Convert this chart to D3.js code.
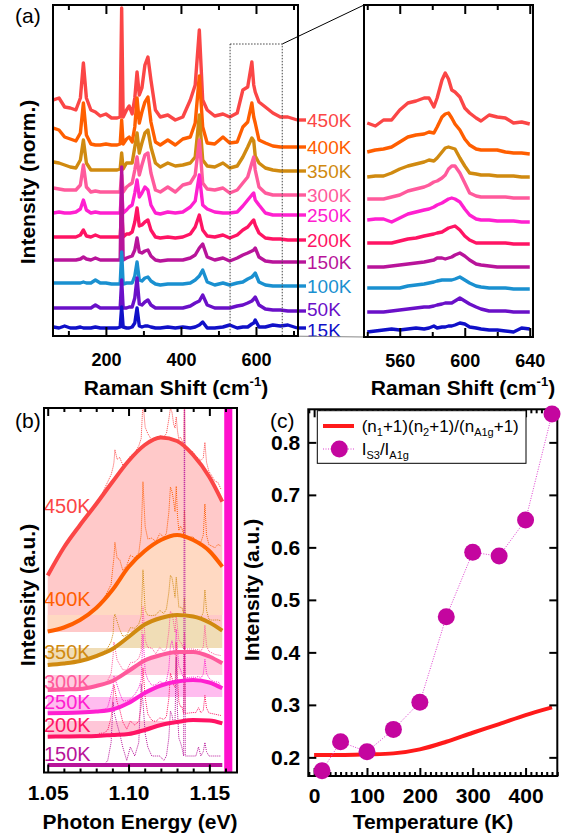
<!DOCTYPE html>
<html><head><meta charset="UTF-8"><title>Raman spectra vs temperature</title>
<script src="https://cdn.jsdelivr.net/npm/d3@7"></script>
<style>
body{margin:0;background:#fff}
svg{font-family:"Liberation Sans",Arial,sans-serif}
</style></head><body>
<svg id="fig" width="573" height="839"></svg>
<script>
// ---------- data: panel (a) ----------
var temps = ["450K","400K","350K","300K","250K","200K","150K","100K","50K","15K"];
var tempColors = ["#fb4646","#ff5e00","#d08a10","#ff5a9c","#ff20d0","#ff1464","#b8149a","#1a90d0","#6a10c8","#1010c8"];
var offsetsA = [216,189,165,141,121,96,74,50,26,7];   // stacking offset of each trace
var shiftA = [60,75,90,105,120,132,140,148,160,172,185,200,215,230,238,242,246,255,262,270,277,283,289,296,304,312,320,332,345,365,385,405,425,438,449,458,470,490,512,530,550,565,578,589,594,598,608,625,645,665,685,710];
var a450 = [20,22,13,12,10,22,57,22,10,8,4,6,2,2,3,112,3,10,14,6,22,48,25,32,55,63,40,10,3,5,0,3,20,35,90,20,10,4,6,3,7,30,33,58,35,28,18,13,7,3,3,0];
var a400 = [19,17,10,8,6,14,44,12,3,2,2,3,2,2,3,27,3,8,10,5,20,49,24,35,45,50,25,5,2,7,2,8,10,24,71,20,4,3,10,4,5,20,25,44,30,24,7,4,1,0,0,0];
var a350 = [9,8,6,4,3,11,31,8,1,1,1,1,1,1,2,18,2,8,8,8,24,38,18,28,38,41,24,8,4,8,5,6,8,14,56,11,5,4,8,3,5,14,24,33,30,15,8,3,1,0,0,0];
var a300 = [7,6,5,5,5,10,30,8,3,4,3,3,3,3,3,20,3,8,10,12,25,38,20,30,40,42,22,5,3,8,3,10,12,20,55,12,6,5,7,2,5,12,18,32,38,25,8,2,0,0,0,0];
var a250 = [2,3,2,2,3,6,15,5,2,3,2,2,2,2,2,25,2,5,8,10,22,35,18,22,28,25,10,2,1,3,2,3,8,14,40,10,6,3,2,2,3,9,15,20,22,15,10,2,0,0,0,0];
var a200 = [3,3,3,3,3,5,10,4,3,5,3,3,3,3,3,30,3,6,6,8,18,32,14,15,18,20,10,3,2,3,2,3,6,13,25,10,4,3,5,2,5,10,13,18,20,15,7,2,1,1,0,0];
var a150 = [2,2,2,2,2,3,5,3,2,4,2,2,2,2,2,95,2,4,5,6,12,24,10,9,11,12,6,2,1,2,2,2,4,7,14,18,5,2,4,1,4,7,9,11,12,14,5,1,0,0,0,0];
var a100 = [3,3,3,3,3,3,4,3,3,6,3,3,2,2,2,34,2,3,3,3,10,24,6,5,8,9,5,2,1,2,2,2,3,6,10,16,4,1,3,1,3,4,7,9,11,13,4,1,0,0,0,0];
var a50  = [2,2,2,2,2,2,2,2,2,5,2,2,2,2,2,30,2,2,3,3,12,32,6,5,8,10,5,2,2,2,2,2,4,7,9,15,5,2,2,2,4,5,7,9,11,13,5,1,0,0,-1,-1];
var a15  = [2,1,3,1,1,2,1,1,1,2,1,1,1,1,2,22,2,1,1,2,6,21,3,2,3,3,2,1,1,2,1,2,1,2,4,7,1,1,2,4,1,2,2,5,6,9,2,2,4,3,4,1];
var specsA = [a450,a400,a350,a300,a250,a200,a150,a100,a50,a15];

// zoomed window 538-642 cm-1
var shiftZ = [540,545,550,555,560,565,570,575,578,581,583,586,588,590,592,594,597,600,603,607,610,615,620,625,630,635,640];
var z450 = [-3,-6,0,0,10,17,19,22,22,13,22,40,47,41,30,28,23,12,7,2,-1,5,3,2,-3,-2,-4];
var z400 = [-5,-3,-2,0,5,10,12,13,15,14,20,30,33,34,29,23,17,8,2,-2,-3,-3,-3,-5,-6,-6,-7];
var z350 = [-6,-5,-5,-2,2,5,7,9,11,10,13,19,23,24,23,22,13,5,-2,-3,-4,-4,-5,-5,-5,-6,-6];
var z300 = [-4,-4,-4,-2,0,4,6,8,10,13,14,17,20,26,29,29,22,12,2,-1,-2,-2,-2,-2,-3,-3,-3];
var z250 = [-5,-4,-4,-7,-3,1,3,5,6,8,10,12,14,16,17,16,13,6,0,-4,-5,-5,-6,-6,-6,-7,-7];
var z200 = [-3,-3,-3,-3,-1,1,2,4,5,6,7,8,10,12,13,14,10,4,0,-3,-3,-3,-3,-3,-4,-4,-4];
var z150 = [-5,-5,-5,-4,-3,-2,-1,0,1,2,4,4,3,4,5,7,9,6,2,-2,-3,-4,-5,-5,-5,-5,-5];
var z100 = [-2,-2,-2,-2,-2,0,1,2,3,4,5,6,6,6,6,7,9,6,3,0,-1,-2,-2,-2,-3,-3,-3];
var z50  = [-2,-2,-2,-1,0,1,2,3,3,4,5,6,7,7,7,9,12,9,6,3,1,-1,-1,-1,-2,-2,-2];
var z15  = [-3,-2,-1,0,-1,0,1,0,1,3,1,2,2,3,3,4,6,5,2,1,0,-1,-1,-2,-3,1,0];
var specsZ = [z450,z400,z350,z300,z250,z200,z150,z100,z50,z15];

// ---------- data: panel (b) ----------
var laserE = 1.1646;            // eV
var fitE = [1.05,1.06,1.07,1.08,1.09,1.10,1.11,1.12,1.13,1.14,1.15,1.158];
var fit450 = [197,225,247.5,268.5,290.5,311.5,327.5,335,331.5,317.5,295.5,270.8];
var fit400 = [141,145,152.5,164.5,182.5,205.5,221.5,232.5,237.5,232.5,221.5,205.8];
var fit350 = [107.5,109,111.5,116.5,123.5,135.5,148,154.5,157.5,156,150,141.8];
var fit300 = [82.5,83,83.5,86.5,91.5,101.5,112,117.5,120.5,120.5,116,109.2];
var fit250 = [59.2,59.5,60,61,63,69.5,79.5,87,91,92.5,90,84.2];
var fit200 = [35.8,36,36.2,36.5,37.5,38.5,42.5,47.5,50.5,52.5,52,49.2];
var fit150 = [7.5,7.5,7.5,7.5,7.5,7.5,7.5,7.5,7.5,7.5,7.5,7.5];
var fitsB = [fit450,fit400,fit350,fit300,fit250,fit200,fit150];
var fillLevelB = [140.5,157.5,124.5,97.5,75.5,51.5];   // level each fit is shaded to
var fillColorsB = ["#ffc9c9","#ffd9c2","#f0ddb6","#ffcde0","#ffbcef","#ffc6d8"];
var gainB = [0.5,1.0,1.0,1.0,1.5,2.5,4.5];   // raw spectrum scale in (b)

// ---------- data: panel (c) ----------
var tempC = [15,50,100,150,200,250,300,350,400,450];
var ratioC = [0.1745,0.2297,0.2107,0.2533,0.3048,0.4678,0.5905,0.5834,0.652,0.854];
var boseT = [0,50,100,150,200,250,300,350,400,450];
var boseC = [0.2045,0.2045,0.2057,0.2076,0.2152,0.2297,0.2469,0.2634,0.2806,0.2952];

var svg = d3.select("#fig");

function styleAxis(g, size) {
  g.select(".domain").remove();
  g.selectAll("line").attr("stroke", "#000").attr("stroke-width", 2);
  g.selectAll("text").attr("fill", "#000").attr("font-size", size).attr("font-weight", "bold")
    .attr("font-family", '"Liberation Sans",Arial,sans-serif');
}
function addAxis(axis, tx, ty, size) {
  var g = svg.append("g").attr("transform", "translate(" + tx + "," + ty + ")").call(axis);
  styleAxis(g, size || 18);
  return g;
}
function frame(x0, y0, x1, y1) {
  svg.append("rect").attr("x", x0).attr("y", y0).attr("width", x1 - x0).attr("height", y1 - y0)
    .attr("fill", "none").attr("stroke", "#000").attr("stroke-width", 2);
}
function clip(id, x0, y0, x1, y1) {
  svg.append("clipPath").attr("id", id).append("rect")
    .attr("x", x0).attr("y", y0).attr("width", x1 - x0).attr("height", y1 - y0);
}

// ================= panel (a) =================
var xA = d3.scaleLinear().domain([59, 712]).range([53, 298]);
var yA = d3.scaleLinear().domain([0, 331]).range([336, 5]);
var xZ = d3.scaleLinear().domain([538, 642]).range([364, 533]);

clip("clipA", 53, 5, 298, 336);
clip("clipZ", 364, 5, 533, 337);

var gA = svg.append("g").attr("clip-path", "url(#clipA)");
var gZ = svg.append("g").attr("clip-path", "url(#clipZ)");
var lineA = d3.line().x(function (d) { return xA(d[0]); }).y(function (d) { return yA(d[1]); });
var lineZ = d3.line().x(function (d) { return xZ(d[0]); }).y(function (d) { return yA(d[1]); });

var labelYA = [120, 147, 171, 195, 215, 240, 262, 286, 309, 330];
specsA.forEach(function (s, i) {
  var pts = shiftA.map(function (x, j) { return [x, offsetsA[i] + s[j]]; });
  gA.append("path").attr("d", lineA(pts)).attr("fill", "none")
    .attr("stroke", tempColors[i]).attr("stroke-width", 3.4).attr("stroke-linejoin", "round");
  var pz = shiftZ.map(function (x, j) { return [x, offsetsA[i] + specsZ[i][j]]; });
  gZ.append("path").attr("d", lineZ(pz)).attr("fill", "none")
    .attr("stroke", tempColors[i]).attr("stroke-width", 3.4).attr("stroke-linejoin", "round");
  // little lead-out to the label
  var yl = yA(offsetsA[i] + s[s.length - 1]);
  svg.append("line").attr("x1", 297).attr("x2", 306).attr("y1", yl).attr("y2", yl)
    .attr("stroke", tempColors[i]).attr("stroke-width", 3.4);
  svg.append("text").attr("x", 307).attr("y", labelYA[i]).attr("dy", "0.36em")
    .attr("font-size", 19).attr("fill", tempColors[i]).text(temps[i]);
});

// zoom window marker
svg.append("rect").attr("x", xA(531)).attr("y", 44).attr("width", xA(670) - xA(531)).attr("height", 336 - 44)
  .attr("fill", "none").attr("stroke", "#444").attr("stroke-width", 1).attr("stroke-dasharray", "1.5,1.5");
svg.append("line").attr("x1", xA(670)).attr("y1", 44).attr("x2", 364).attr("y2", 5)
  .attr("stroke", "#000").attr("stroke-width", 1);
svg.append("line").attr("x1", xA(670)).attr("y1", 336).attr("x2", 364).attr("y2", 337)
  .attr("stroke", "#888").attr("stroke-width", 1);

frame(53, 5, 298, 336);
frame(364, 5, 533, 337);
addAxis(d3.axisBottom(xA).tickValues([200, 400, 600]).tickSize(-9).tickPadding(17).tickFormat(d3.format("d")), 0, 336);
addAxis(d3.axisBottom(xA).tickValues([100, 300, 500, 700]).tickSize(-5).tickFormat(""), 0, 336);
addAxis(d3.axisTop(xA).tickValues([200, 400, 600]).tickSize(-9).tickFormat(""), 0, 5);
addAxis(d3.axisTop(xA).tickValues([100, 300, 500, 700]).tickSize(-5).tickFormat(""), 0, 5);
addAxis(d3.axisBottom(xZ).tickValues([560, 600, 640]).tickSize(-9).tickPadding(17).tickFormat(d3.format("d")), 0, 337);
addAxis(d3.axisBottom(xZ).tickValues([540, 580, 620]).tickSize(-5).tickFormat(""), 0, 337);
addAxis(d3.axisTop(xZ).tickValues([560, 600, 640]).tickSize(-9).tickFormat(""), 0, 5);
addAxis(d3.axisTop(xZ).tickValues([540, 580, 620]).tickSize(-5).tickFormat(""), 0, 5);

function ramanTitle(cx, y) {
  var t = svg.append("text").attr("x", cx).attr("y", y).attr("text-anchor", "middle")
    .attr("font-size", 21).attr("font-weight", "bold");
  t.append("tspan").text("Raman Shift (cm");
  t.append("tspan").attr("font-size", 13).attr("dy", -9).text("-1");
  t.append("tspan").attr("dy", 9).text(")");
}
ramanTitle(176, 395);
ramanTitle(463, 395);
svg.append("text").attr("transform", "translate(35,182) rotate(-90)").attr("text-anchor", "middle")
  .attr("font-size", 21).attr("font-weight", "bold").text("Intensity (norm.)");
svg.append("text").attr("x", 15).attr("y", 23).attr("font-size", 21).text("(a)");

// ================= panel (b) =================
var xB = d3.scaleLinear().domain([1.0477, 1.1671]).range([44, 237]);
var yB = d3.scaleLinear().domain([0, 364.5]).range([772.5, 408]);
clip("clipB", 44, 408, 237, 772.5);
var gB = svg.append("g").attr("clip-path", "url(#clipB)");

var fitLine = d3.line().curve(d3.curveMonotoneX)
  .x(function (d) { return xB(d[0]); }).y(function (d) { return yB(d[1]); });

// shaded area between each fit and its reference level
fillColorsB.forEach(function (c, i) {
  var f = fitsB[i];
  var area = d3.area().curve(d3.curveMonotoneX)
    .x(function (d) { return xB(d[0]); }).y0(yB(fillLevelB[i])).y1(function (d) { return yB(d[1]); });
  gB.append("path").attr("d", area(fitE.map(function (e, j) { return [e, f[j]]; }))).attr("fill", c);
});

// raw spectra (dotted), Raman shift converted to photon energy, riding on the fit
fitsB.forEach(function (f, i) {
  var bg = d3.scaleLinear().domain(fitE).range(f).clamp(true);
  var pts = [];
  shiftA.forEach(function (s, j) {
    if (s > 685) return;
    var e = laserE - s / 8065.54;
    pts.push([e, bg(e) + gainB[i] * specsA[i][j]]);
  });
  pts.reverse();
  gB.append("path").attr("d", d3.line().x(function (d) { return xB(d[0]); }).y(function (d) { return yB(d[1]); })(pts))
    .attr("fill", "none").attr("stroke", tempColors[i]).attr("stroke-width", 1).attr("stroke-dasharray", "1,1");
});

var labelYB = [513, 606, 659, 689, 709, 732, 761];
fitsB.forEach(function (f, i) {
  gB.append("path").attr("d", fitLine(fitE.map(function (e, j) { return [e, f[j]]; })))
    .attr("fill", "none").attr("stroke", tempColors[i]).attr("stroke-width", 4);
  svg.append("text").attr("x", 44).attr("y", labelYB[i]).attr("font-size", 20)
    .attr("fill", tempColors[i]).text(temps[i]);
});

// notch-filter band
svg.append("rect").attr("x", xB(1.1592)).attr("y", 408).attr("width", xB(1.1642) - xB(1.1592)).attr("height", 364.5)
  .attr("fill", "#ff10cc");

frame(44, 408, 237, 772.5);
var minorB = d3.range(1.06, 1.165, 0.01).filter(function (v) { return Math.abs(v - 1.10) > 0.002 && Math.abs(v - 1.15) > 0.002; });
addAxis(d3.axisBottom(xB).tickValues([1.05, 1.10, 1.15]).tickSize(-8).tickPadding(13).tickFormat(d3.format(".2f")), 0, 772.5, 21);
addAxis(d3.axisBottom(xB).tickValues(minorB).tickSize(-4).tickFormat(""), 0, 772.5);
addAxis(d3.axisTop(xB).tickValues([1.05, 1.10, 1.15]).tickSize(-8).tickFormat(""), 0, 408);
addAxis(d3.axisTop(xB).tickValues(minorB).tickSize(-4).tickFormat(""), 0, 408);
svg.append("text").attr("x", 140).attr("y", 829).attr("text-anchor", "middle")
  .attr("font-size", 21).attr("font-weight", "bold").text("Photon Energy (eV)");
svg.append("text").attr("transform", "translate(35,595) rotate(-90)").attr("text-anchor", "middle")
  .attr("font-size", 21).attr("font-weight", "bold").text("Intensity (a.u.)");
svg.append("text").attr("x", 15).attr("y", 428).attr("font-size", 21).text("(b)");

// ================= panel (c) =================
var xC = d3.scaleLinear().domain([-11, 460]).range([308.3, 557.3]);
var yC = d3.scaleLinear().domain([0.1645, 0.863]).range([776, 409.3]);

svg.append("path").attr("d", d3.line().curve(d3.curveMonotoneX)
    .x(function (d, i) { return xC(boseT[i]); }).y(function (d) { return yC(d); })(boseC))
  .attr("fill", "none").attr("stroke", "#ff1a1a").attr("stroke-width", 4);
svg.append("path").attr("d", d3.line()
    .x(function (d, i) { return xC(tempC[i]); }).y(function (d) { return yC(d); })(ratioC))
  .attr("fill", "none").attr("stroke", "#e040d0").attr("stroke-width", 1).attr("stroke-dasharray", "1,1.5");

frame(308.3, 409.3, 557.3, 776);
var minorC = d3.range(-10, 461, 10).filter(function (v) { return v % 100 !== 0; });
addAxis(d3.axisBottom(xC).tickValues([0, 100, 200, 300, 400]).tickSize(-8).tickPadding(12).tickFormat(d3.format("d")), 0, 776, 21);
addAxis(d3.axisBottom(xC).tickValues(minorC).tickSize(-4).tickFormat(""), 0, 776);
addAxis(d3.axisTop(xC).tickValues([0, 100, 200, 300, 400]).tickSize(-8).tickFormat(""), 0, 409.3);
addAxis(d3.axisTop(xC).tickValues(minorC).tickSize(-4).tickFormat(""), 0, 409.3);
addAxis(d3.axisLeft(yC).tickValues([0.2, 0.3, 0.4, 0.5, 0.6, 0.7, 0.8]).tickSize(-8).tickPadding(8).tickFormat(d3.format(".1f")), 308.3, 0, 21);
addAxis(d3.axisRight(yC).tickValues([0.2, 0.3, 0.4, 0.5, 0.6, 0.7, 0.8]).tickSize(-8).tickFormat(""), 557.3, 0);

svg.selectAll(null).data(ratioC).enter().append("circle")
  .attr("cx", function (d, i) { return xC(tempC[i]); }).attr("cy", function (d) { return yC(d); })
  .attr("r", 8.5).attr("fill", "#c4069f");

// legend
svg.append("rect").attr("x", 317.3).attr("y", 410.7).attr("width", 208.7).attr("height", 52.6)
  .attr("fill", "#fff").attr("stroke", "#000").attr("stroke-width", 1);
svg.append("line").attr("x1", 323).attr("x2", 354).attr("y1", 426).attr("y2", 426)
  .attr("stroke", "#ff1a1a").attr("stroke-width", 4);
svg.append("line").attr("x1", 323).attr("x2", 355).attr("y1", 449).attr("y2", 449)
  .attr("stroke", "#e040d0").attr("stroke-width", 1).attr("stroke-dasharray", "1,1.5");
svg.append("circle").attr("cx", 339.3).attr("cy", 449).attr("r", 8.5).attr("fill", "#c4069f");
var l1 = svg.append("text").attr("x", 361.7).attr("y", 432).attr("font-size", 17);
[["(n", 0], ["1", 1], ["+1)(n", 0], ["2", 1], ["+1)/(n", 0], ["A1g", 1], ["+1)", 0]].forEach(function (p) {
  l1.append("tspan").attr("font-size", p[1] ? 11 : 17).attr("baseline-shift", p[1] ? "-4" : "0").text(p[0]);
});
var l2 = svg.append("text").attr("x", 361.7).attr("y", 455).attr("font-size", 17);
[["I", 0], ["S3", 1], ["/I", 0], ["A1g", 1]].forEach(function (p) {
  l2.append("tspan").attr("font-size", p[1] ? 11 : 17).attr("baseline-shift", p[1] ? "-4" : "0").text(p[0]);
});

svg.append("text").attr("x", 433).attr("y", 829).attr("text-anchor", "middle")
  .attr("font-size", 21).attr("font-weight", "bold").text("Temperature (K)");
svg.append("text").attr("transform", "translate(259,590) rotate(-90)").attr("text-anchor", "middle")
  .attr("font-size", 21).attr("font-weight", "bold").text("Intensity (a.u.)");
svg.append("text").attr("x", 270).attr("y", 428).attr("font-size", 21).text("(c)");
</script>
</body></html>
